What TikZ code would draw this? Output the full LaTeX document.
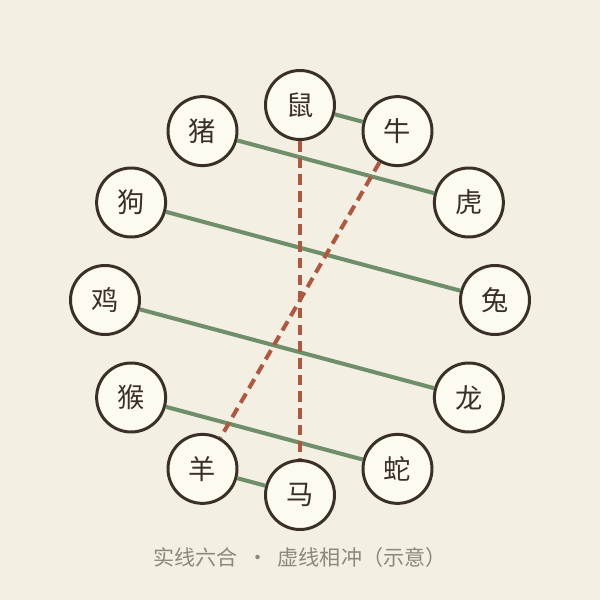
\documentclass[tikz,border=0pt]{standalone}
\usepackage{fontspec}
\newfontfamily\cjk{Noto Sans CJK SC}
\definecolor{bgpaper}{HTML}{F3EFE3}
\definecolor{nodefill}{HTML}{FDFAF0}
\definecolor{inkdark}{HTML}{3A3028}
\definecolor{hegreen}{HTML}{6F8F6A}
\definecolor{chongred}{HTML}{B0583F}
\definecolor{notegray}{HTML}{8E887C}

\begin{document}
\begin{tikzpicture}[line join=bevel]

    % \r is the radius of the ring, \cx and \cy its centre
    \pgfmathsetmacro{\r}{3.9}
    \pgfmathsetmacro{\cx}{6}
    \pgfmathsetmacro{\cy}{6}

    \tikzset{%
      zodiac/.style   = {circle, draw=inkdark, line width=1.7pt, fill=nodefill,
                         minimum size=1.38cm, inner sep=0pt, font=\cjk\fontsize{15.5}{15.5}\selectfont, text=inkdark},
      heline/.style   = {draw=hegreen, line width=2.3pt},
      chongline/.style = {draw=chongred, line width=2.3pt, dash pattern=on 6pt off 3.5pt}
    }

    \fill[bgpaper] (0,0) rectangle (12,12);

    \foreach \k/\name/\label in {%
       0/shu/鼠,  1/niu/牛,  2/hu/虎,   3/tu/兔,
       4/long/龙, 5/she/蛇,  6/ma/马,   7/yang/羊,
       8/hou/猴,  9/ji/鸡,  10/gou/狗, 11/zhu/猪%
    }{
      \node[zodiac] (\name) at ({\cx+\r*cos(90-30*\k)},{\cy+\r*sin(90-30*\k)}) {\label};
    }

    % solid: liuhe pairs
    \foreach \u/\v in {shu/niu, zhu/hu, gou/tu, ji/long, hou/she, yang/ma}
      \draw[heline] (\u) -- (\v);

    % dashed: chong pairs
    \draw[chongline] (shu) -- (ma);
    \draw[chongline] (niu) -- (yang);

    \node[font=\cjk\fontsize{12}{12}\selectfont, text=notegray] (note) at (6,0.86)
      {实线六合\ \ ·\ \ 虚线相冲（示意）};

\end{tikzpicture}
\end{document}
